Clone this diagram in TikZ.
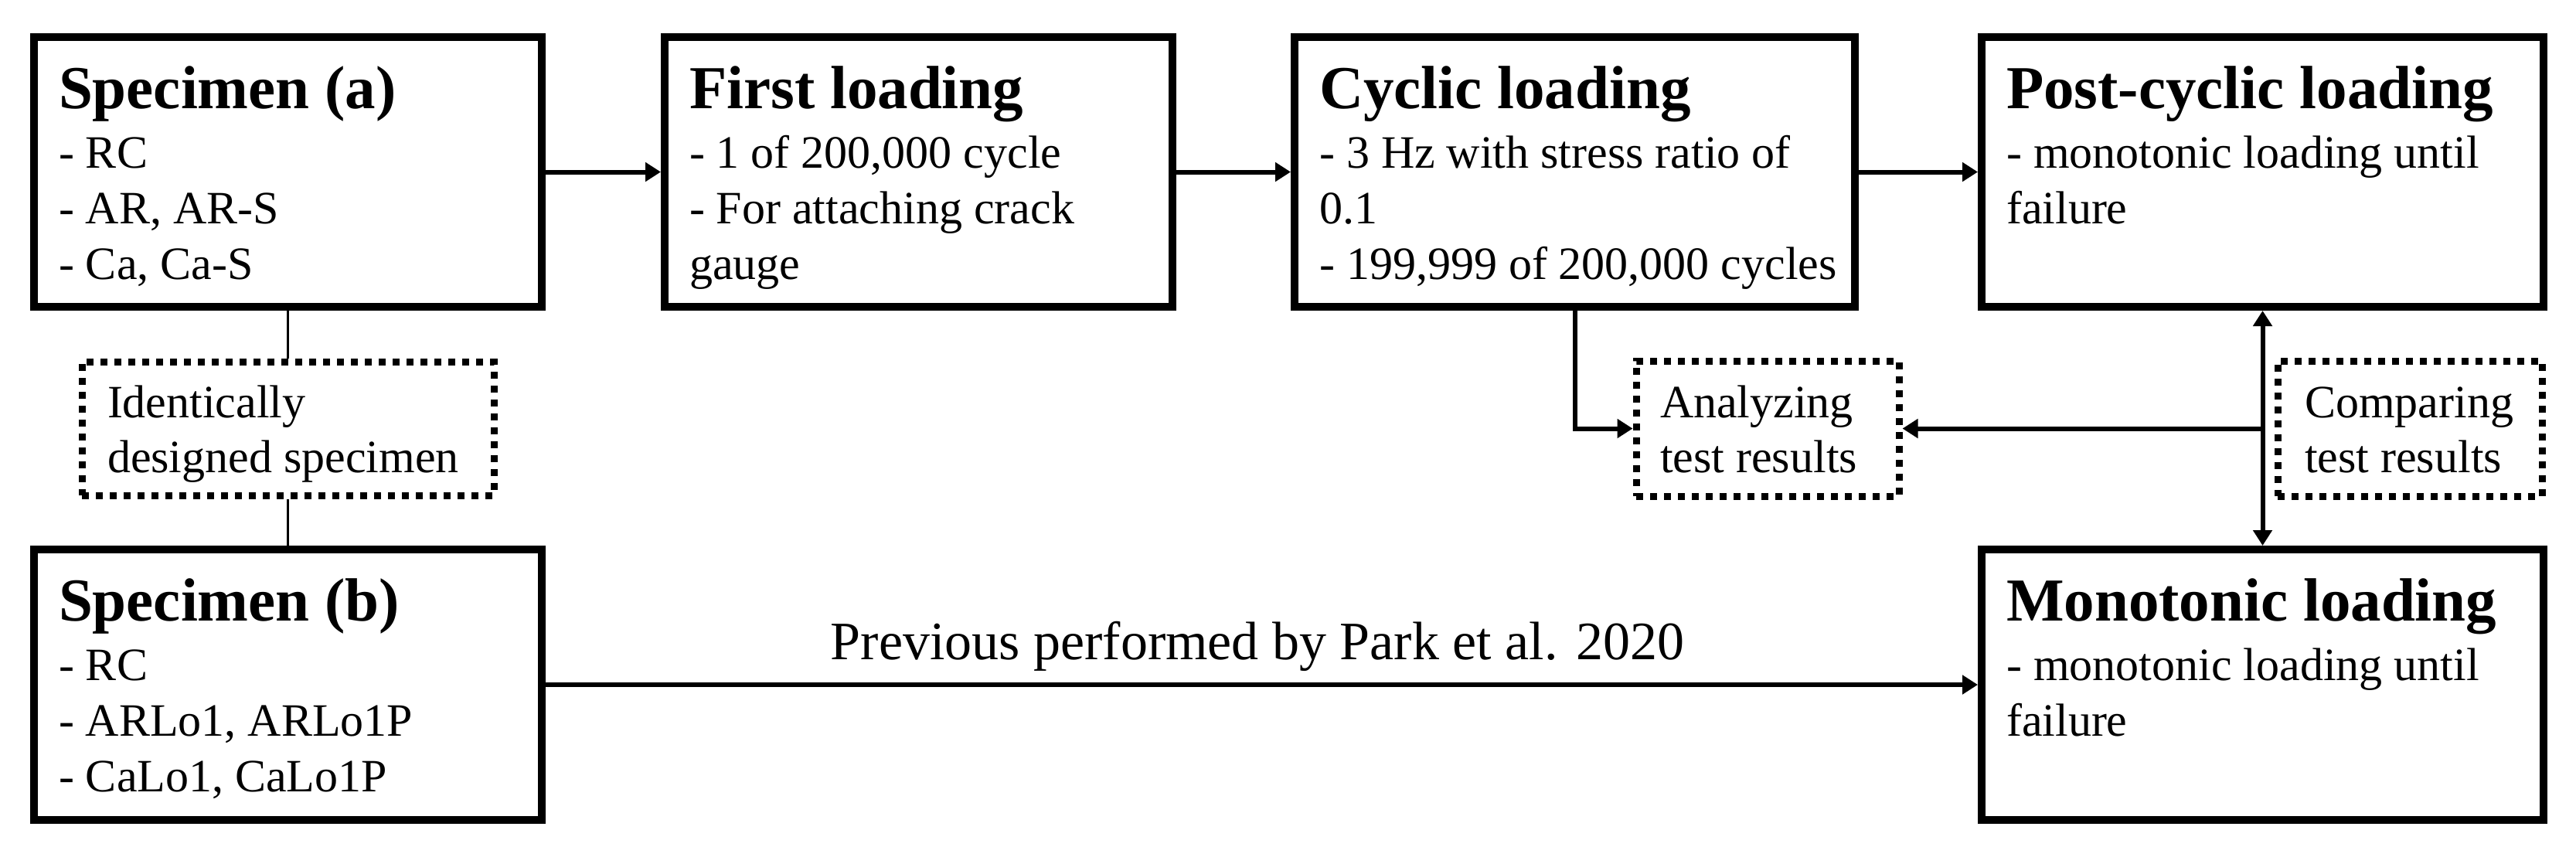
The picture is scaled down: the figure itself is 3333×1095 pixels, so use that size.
\documentclass[tikz,border=0pt]{standalone}
\usepackage{fontspec}
\setmainfont{Liberation Serif}
\usetikzlibrary{arrows.meta,fit}
\tikzset{
  frame/.style={draw, line width=2pt, inner sep=0pt},
  dotbox/.style={draw, line width=1.8pt, dash pattern=on 1.8pt off 1.8pt, inner sep=0pt},
  txt/.style={anchor=base west, inner sep=0pt},
  arr/.style={line width=1.2pt, -{Triangle[length=4pt,width=4.8pt]}},
  arrboth/.style={line width=1.2pt, {Triangle[length=4pt,width=4.8pt]}-{Triangle[length=4pt,width=4.8pt]}},
  link/.style={line width=0.7pt},
}
\newcommand{\boxtext}[2]{\parbox[t]{160pt}{\raggedright\fontsize{15.8}{15.8}\bfseries #1\par\vspace{1pt}\fontsize{12}{14.4}\mdseries\selectfont #2}}
\newcommand{\dottext}[1]{\parbox[t]{110pt}{\raggedright\fontsize{12}{14.2}\selectfont #1}}
\begin{document}
\begin{tikzpicture}[x=0.2pt, y=-0.2pt]
\useasboundingbox (0,0) rectangle (3333,1095);
% frames
\node[frame, fit={(44,48) (701,397)}] (spa) {};
\node[frame, fit={(860,48) (1517,397)}] (fl) {};
\node[frame, fit={(1675,48) (2400,397)}] (cy) {};
\node[frame, fit={(2564,48) (3291,397)}] (pc) {};
\node[frame, fit={(44,711) (701,1061)}] (spb) {};
\node[frame, fit={(2564,711) (3291,1061)}] (mo) {};
\node[dotbox, fit={(106,468) (639,641)}] (idn) {};
\node[dotbox, fit={(2117,467) (2457,642)}] (an) {};
\node[dotbox, fit={(2947,467) (3289,642)}] (cmp) {};
% texts
\node[txt] (spa-t) at (75,140) {\boxtext{Specimen (a)}{- RC\\- AR, AR-S\\- Ca, Ca-S}};
\node[txt] (fl-t) at (891,140) {\boxtext{First loading}{- 1 of 200,000 cycle\\- For attaching crack\\gauge}};
\node[txt] (cy-t) at (1706,140) {\boxtext{Cyclic loading}{- 3 Hz with stress ratio of\\0.1\\- 199,999 of 200,000 cycles}};
\node[txt] (pc-t) at (2595,140) {\boxtext{Post-cyclic loading}{- monotonic loading until\\failure}};
\node[txt] (spb-t) at (75,803) {\boxtext{Specimen (b)}{- RC\\- ARLo1, ARLo1P\\- CaLo1, CaLo1P}};
\node[txt] (mo-t) at (2595,803) {\boxtext{Monotonic loading}{- monotonic loading until\\failure}};
\node[txt] (idn-t) at (138,540) {\dottext{Identically\\designed specimen}};
\node[txt] (an-t) at (2147,540) {\dottext{Analyzing\\test results}};
\node[txt] (cmp-t) at (2981,540) {\dottext{Comparing\\test results}};
\node[anchor=base, inner sep=0pt, font=\fontsize{14}{17}\selectfont] (lbl) at (1627,853) {Previous performed by Park et al. 2020};
% connectors
\draw[arr] (spa) -- (fl);
\draw[arr] (fl) -- (cy);
\draw[arr] (cy) -- (pc);
\draw[link] (spa) -- (idn);
\draw[link] (idn) -- (spb);
\draw[arr] (spb) -- (mo);
\draw[arrboth] (pc) -- (mo);
\draw[arr] (cy.south) |- (an.west);
\draw[arr] (an.east -| pc.south) -- (an.east);
\end{tikzpicture}
\end{document}
